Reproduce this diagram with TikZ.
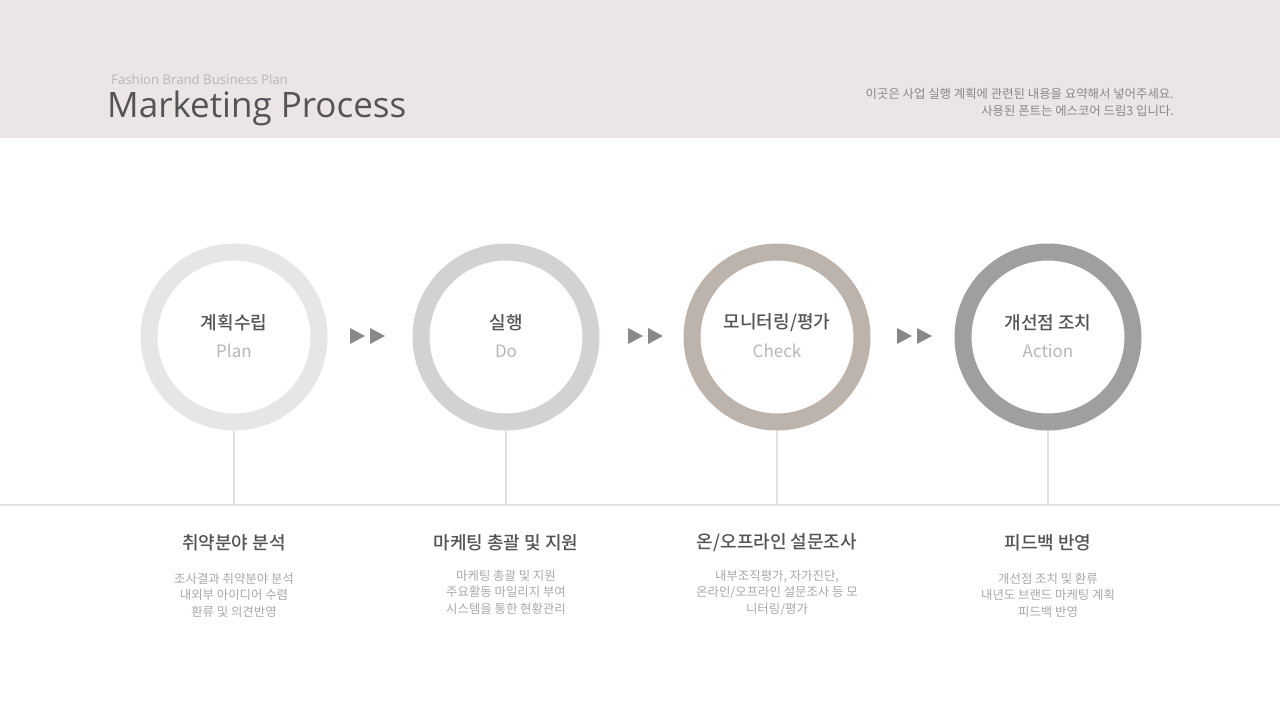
\documentclass[tikz,border=0pt]{standalone}
\usepackage{fontspec}
\setmainfont{Noto Sans CJK KR}
\newfontfamily\kr{Noto Sans CJK KR}
\newfontfamily\krm{Noto Sans CJK KR Medium}
\newfontfamily\ttl{Open Sans}
\definecolor{band}{HTML}{EBE6E5}
\definecolor{ringA}{HTML}{E8E6E5}
\definecolor{ringB}{HTML}{D3D1D1}
\definecolor{ringC}{HTML}{BDB3AD}
\definecolor{ringD}{HTML}{A09EA1}
\definecolor{linec}{HTML}{E3E1E3}
\definecolor{darktxt}{HTML}{555355}
\definecolor{lighttxt}{HTML}{B8B6B8}
\definecolor{desctxt}{HTML}{AAA8AA}
\definecolor{arrowc}{HTML}{8A888A}
\begin{document}
\begin{tikzpicture}[x=1pt,y=-1pt,
  ring/.style={circle,minimum size=170pt,line width=17pt,fill=white,inner sep=0pt},
  ctitle/.style={font=\krm\fontsize{18}{20}\selectfont,text=darktxt,anchor=center,inner sep=0pt},
  csub/.style={font=\kr\fontsize{17}{20}\selectfont,text=lighttxt,anchor=center,inner sep=0pt},
  htitle/.style={font=\krm\fontsize{18}{20}\selectfont,text=darktxt,anchor=center,inner sep=0pt},
  desc/.style={font=\kr\fontsize{12.4}{16.5}\selectfont,text=desctxt,align=center,anchor=north,inner sep=0pt},
  tri/.style={fill=arrowc,draw=none},
  conn/.style={draw=linec,line width=2pt}]
\useasboundingbox (0,0) rectangle (1280,720);
\fill[white] (0,0) rectangle (1280,720);
\fill[band] (0,0) rectangle (1280,138);
% header
\node[anchor=base west,inner sep=0pt,font=\ttl\fontsize{13.2}{14}\selectfont,text=lighttxt] (sub) at (111,84) {Fashion Brand Business Plan};
\node[anchor=base west,inner sep=0pt,font=\ttl\fontsize{35}{40}\selectfont,text=darktxt] (title) at (107,117) {Marketing Process};
\node[anchor=north east,inner sep=0pt,align=right,font=\kr\fontsize{12.4}{17}\selectfont,text=arrowc] (note) at (1174,88) {이곳은 사업 실행 계획에 관련된 내용을 요약해서 넣어주세요.\\사용된 폰트는 에스코어 드림3 입니다.};
% baseline
\coordinate (L) at (0,505);
\coordinate (R) at (1280,505);
\draw[conn] (L) -- (R);
% circles
\foreach \n/\x/\c in {a/234/ringA,b/506/ringB,c/777/ringC,d/1048/ringD}{
  \coordinate (\n base) at (\x,505);
  \draw[conn] (\x,400) -- (\n base);
  \node[ring,draw=\c] (\n) at (\x,337) {};
}
\node[ctitle] (at) at (234,323) {계획수립};
\node[csub] (as) at (234,351) {Plan};
\node[ctitle] (bt) at (506,323) {실행};
\node[csub] (bs) at (506,351) {Do};
\node[ctitle] (ct) at (777,323) {모니터링/평가};
\node[csub] (cs) at (777,351) {Check};
\node[ctitle] (dt) at (1048,323) {개선점 조치};
\node[csub] (ds) at (1048,351) {Action};
% arrows
\foreach \x in {350,628,897}{
  \fill[tri] (\x,328) -- (\x+15,336) -- (\x,344) -- cycle;
  \fill[tri] (\x+20,328) -- (\x+35,336) -- (\x+20,344) -- cycle;
}
% bottom texts
\node[htitle] (ah) at (234,543) {취약분야 분석};
\node[htitle] (bh) at (506,543) {마케팅 총괄 및 지원};
\node[htitle] (ch) at (777,543) {온/오프라인 설문조사};
\node[htitle] (dh) at (1048,543) {피드백 반영};
\node[desc] (ad) at (234,573) {조사결과 취약분야 분석\\내외부 아이디어 수렴\\환류 및 의견반영};
\node[desc] (bd) at (506,570) {마케팅 총괄 및 지원\\주요활동 마일리지 부여\\시스템을 통한 현황관리};
\node[desc] (cd) at (777,570) {내부조직평가, 자가진단,\\온라인/오프라인 설문조사 등 모\\니터링/평가};
\node[desc] (dd) at (1048,573) {개선점 조치 및 환류\\내년도 브랜드 마케팅 계획\\피드백 반영};
\end{tikzpicture}
\end{document}
